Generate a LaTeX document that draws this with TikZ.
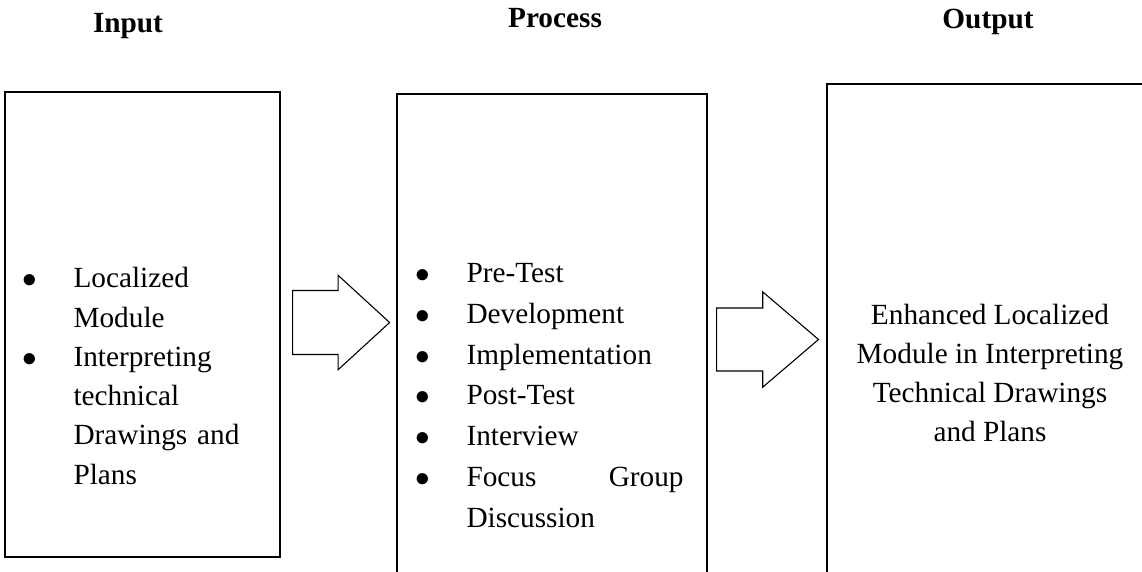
\documentclass[tikz,border=0pt]{standalone}
\usepackage{fontspec}
\setmainfont{Liberation Serif}
\usepackage{enumitem}
\usetikzlibrary{shapes.arrows, positioning}
\tikzstyle{block} = [rectangle, draw=black, line width=0.8pt, inner sep=0]
\tikzstyle{heading} = [font=\bfseries\fontsize{12}{14}\selectfont, anchor=base, inner sep=0]
\tikzstyle{bigarrow} = [single arrow, draw=black, line width=0.45pt, inner xsep=0, anchor=tail]
\tikzstyle{listtext} = [anchor=north west, inner sep=0, align=left]
\setlist[itemize]{label=$\bullet$, labelsep=14.8pt, itemsep=0pt, topsep=0pt,
                  parsep=0pt, partopsep=0pt}

\begin{document}
\begin{tikzpicture}[x=0.41pt, y=-0.41pt]
	\useasboundingbox (0, 0) rectangle (1142, 571);
	\clip (0, 0) rectangle (1142, 571);

	% titles
	\node (InTitle) [heading] at (128, 32) {Input};
	\node (ProcTitle) [heading] at (555, 27) {Process};
	\node (OutTitle) [heading] at (988, 28) {Output};

	% input
	\node (In) [block, minimum width=112.75pt, minimum height=190.65pt] at (142.5, 324.5) {};
	\node (InList) [listtext, text width=95pt, font=\fontsize{12}{16.1}\selectfont] at (27, 248) {%
		\begin{itemize}[leftmargin=18.9pt, before=\raggedright]
			\item \strut Localized Module
			\item Interpreting technical Drawings and Plans
		\end{itemize}};

	% process
	\node (Proc) [block, minimum width=127.1pt, minimum height=223.9pt] at (552, 367) {};
	\node (ProcList) [listtext, text width=108.7pt, font=\fontsize{12}{16.7}\selectfont] at (418, 241.5) {%
		\begin{itemize}[leftmargin=19.7pt]
			\item \strut Pre-Test
			\item Development
			\item Implementation
			\item Post-Test
			\item Interview
			\item Focus\hfill Group\newline Discussion
		\end{itemize}};

	% output
	\node (Out) [block, minimum width=152.9pt, minimum height=228pt] at (1013.5, 362) {};
	\node (OutText) [anchor=base, inner sep=0, align=center, font=\fontsize{12}{15.9}\selectfont] at (990, 441) {%
		Enhanced Localized\\ Module in Interpreting\\ Technical Drawings\\ and Plans};

	% arrows between the boxes
	\node (InArrow) [bigarrow, minimum height=39.8pt, inner ysep=12.9pt,
		single arrow head extend=6.2pt, single arrow tip angle=85] at (292, 322.5) {};
	\node (OutArrow) [bigarrow, minimum height=41.8pt, inner ysep=12.7pt,
		single arrow head extend=6.6pt, single arrow tip angle=81] at (716, 339.5) {};
\end{tikzpicture}
\end{document}
